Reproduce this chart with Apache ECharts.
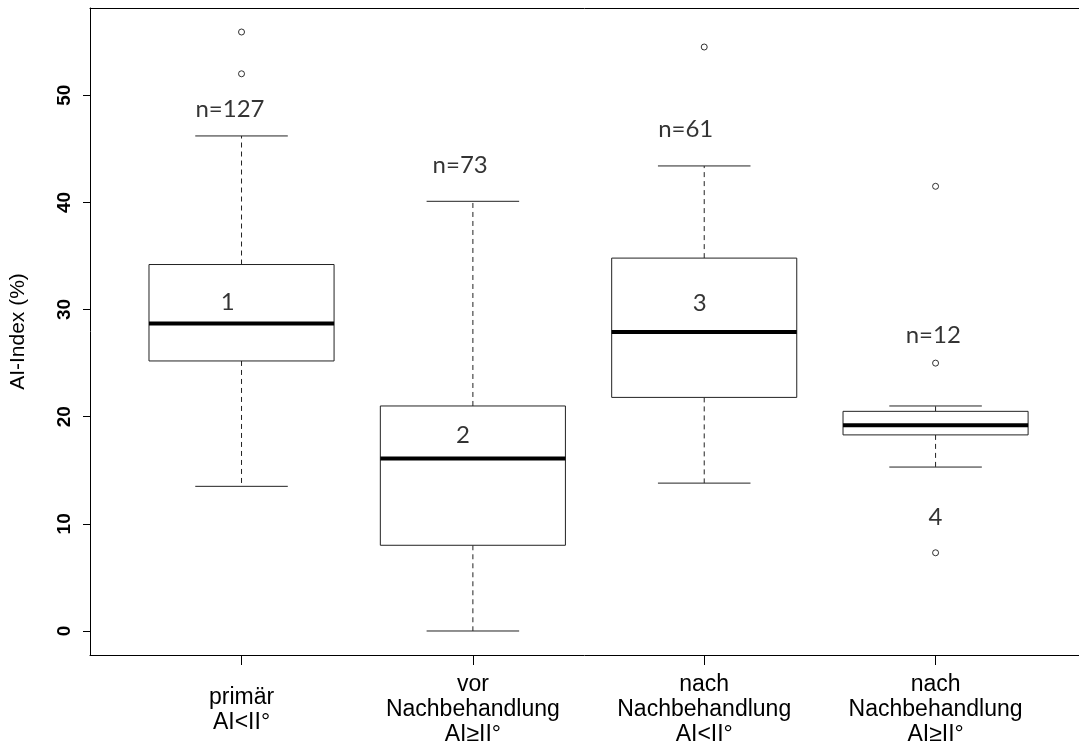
<!DOCTYPE html>
<html>
<head>
<meta charset="utf-8">
<script src="https://cdn.jsdelivr.net/npm/echarts@6/dist/echarts.min.js"></script>
<style>html,body{margin:0;padding:0;background:#fff;}#c{width:1079px;height:749px;}</style>
</head>
<body>
<div id="c"></div>
<script>
// ---- data ----
var categories = ['primär\nAI<II°', 'vor\nNachbehandlung\nAI≥II°', 'nach\nNachbehandlung\nAI<II°', 'nach\nNachbehandlung\nAI≥II°'];
var lowWhisker  = [13.5, 0.0, 13.8, 15.3];
var q1          = [25.2, 8.0, 21.8, 18.3];
var median      = [28.7, 16.1, 27.9, 19.2];
var q3          = [34.2, 21.0, 34.8, 20.5];
var highWhisker = [46.2, 40.1, 43.4, 21.0];
var outlierGroup = [1, 1, 3, 4, 4, 4];
var outlierValue = [55.9, 52.0, 54.5, 41.5, 25.0, 7.3];
var annotText = ['n=127', 'n=73', 'n=61', 'n=12', '1', '2', '3', '4'];
var annotX    = [0.95, 1.945, 2.92, 3.99, 0.94, 1.957, 2.98, 4.0];
var annotY    = [48.7, 43.5, 46.8, 27.6, 30.7, 18.3, 30.6, 10.6];
var yTicks = [0, 10, 20, 30, 40, 50];
var xTicks = [1, 2, 3, 4];

var boxData = categories.map(function (c, i) {
  return [i + 1, lowWhisker[i], q1[i], median[i], q3[i], highWhisker[i]];
});
var outlierData = outlierGroup.map(function (g, i) { return [g, outlierValue[i]]; });
var annotData = annotText.map(function (t, i) { return [annotX[i], annotY[i]]; });

var chart = echarts.init(document.getElementById('c'), null, {renderer: 'canvas'});
var dash = {stroke: '#222', lineWidth: 1, lineDash: [5, 4]};
var solid = {stroke: '#222', lineWidth: 1};
chart.setOption({
  animation: false,
  backgroundColor: '#fff',
  grid: {left: 90, top: 8, width: 992, height: 647, show: false},
  xAxis: [{
    type: 'value', min: 0.345, max: 4.62, position: 'bottom',
    axisLine: {show: true, onZero: false, lineStyle: {color: '#000'}},
    splitLine: {show: false},
    axisTick: {show: true, length: 10, customValues: xTicks, lineStyle: {color: '#000'}},
    axisLabel: {
      customValues: xTicks, margin: 55, verticalAlign: 'middle',
      fontFamily: 'Liberation Sans', fontSize: 23, lineHeight: 25, color: '#000',
      formatter: function (v) { return categories[Math.round(v) - 1] || ''; }
    }
  }, {
    type: 'value', min: 0.345, max: 4.62, position: 'top',
    axisLine: {show: true, onZero: false, lineStyle: {color: '#000'}},
    splitLine: {show: false}, axisTick: {show: false}, axisLabel: {show: false}
  }],
  yAxis: {
    type: 'value', min: -2.24, max: 58.14,
    name: 'AI-Index (%)', nameLocation: 'middle', nameGap: 61, nameRotate: 90,
    nameTextStyle: {fontFamily: 'Liberation Sans', fontSize: 21, color: '#000'},
    axisLine: {show: true, onZero: false, lineStyle: {color: '#000'}},
    splitLine: {show: false},
    axisTick: {show: true, length: 7, customValues: yTicks, lineStyle: {color: '#000'}},
    axisLabel: {
      customValues: yTicks, rotate: 90, margin: 16,
      fontFamily: 'Liberation Sans', fontWeight: 'bold', fontSize: 19, color: '#000',
      formatter: function (v) { return String(Math.round(v)); }
    }
  },
  series: [
    {
      type: 'custom', data: boxData, z: 2,
      renderItem: function (params, api) {
        var x = api.value(0);
        var lo = api.coord([x, api.value(1)]);
        var b1 = api.coord([x, api.value(2)]);
        var md = api.coord([x, api.value(3)]);
        var b3 = api.coord([x, api.value(4)]);
        var hi = api.coord([x, api.value(5)]);
        var bw = api.size([0.8, 0])[0];
        var cw = api.size([0.4, 0])[0];
        var cx = lo[0];
        return {type: 'group', children: [
          {type: 'line', shape: {x1: cx, y1: b3[1], x2: cx, y2: hi[1]}, style: dash},
          {type: 'line', shape: {x1: cx, y1: b1[1], x2: cx, y2: lo[1]}, style: dash},
          {type: 'line', shape: {x1: cx - cw / 2, y1: hi[1], x2: cx + cw / 2, y2: hi[1]}, style: solid},
          {type: 'line', shape: {x1: cx - cw / 2, y1: lo[1], x2: cx + cw / 2, y2: lo[1]}, style: solid},
          {type: 'rect', shape: {x: cx - bw / 2, y: b3[1], width: bw, height: b1[1] - b3[1]}, style: {fill: '#fff', stroke: '#222', lineWidth: 1}},
          {type: 'line', shape: {x1: cx - bw / 2, y1: md[1], x2: cx + bw / 2, y2: md[1]}, style: {stroke: '#000', lineWidth: 4}}
        ]};
      }
    },
    {
      type: 'scatter', data: outlierData, z: 3,
      symbol: 'circle', symbolSize: 6,
      itemStyle: {color: '#fff', borderColor: '#000', borderWidth: 1}
    },
    {
      type: 'scatter', data: annotData, z: 4, symbolSize: 0,
      label: {
        show: true, position: 'inside', color: '#000',
        fontFamily: 'Lato', fontSize: 24,
        formatter: function (p) { return annotText[p.dataIndex]; }
      }
    }
  ]
});
</script>
</body>
</html>
